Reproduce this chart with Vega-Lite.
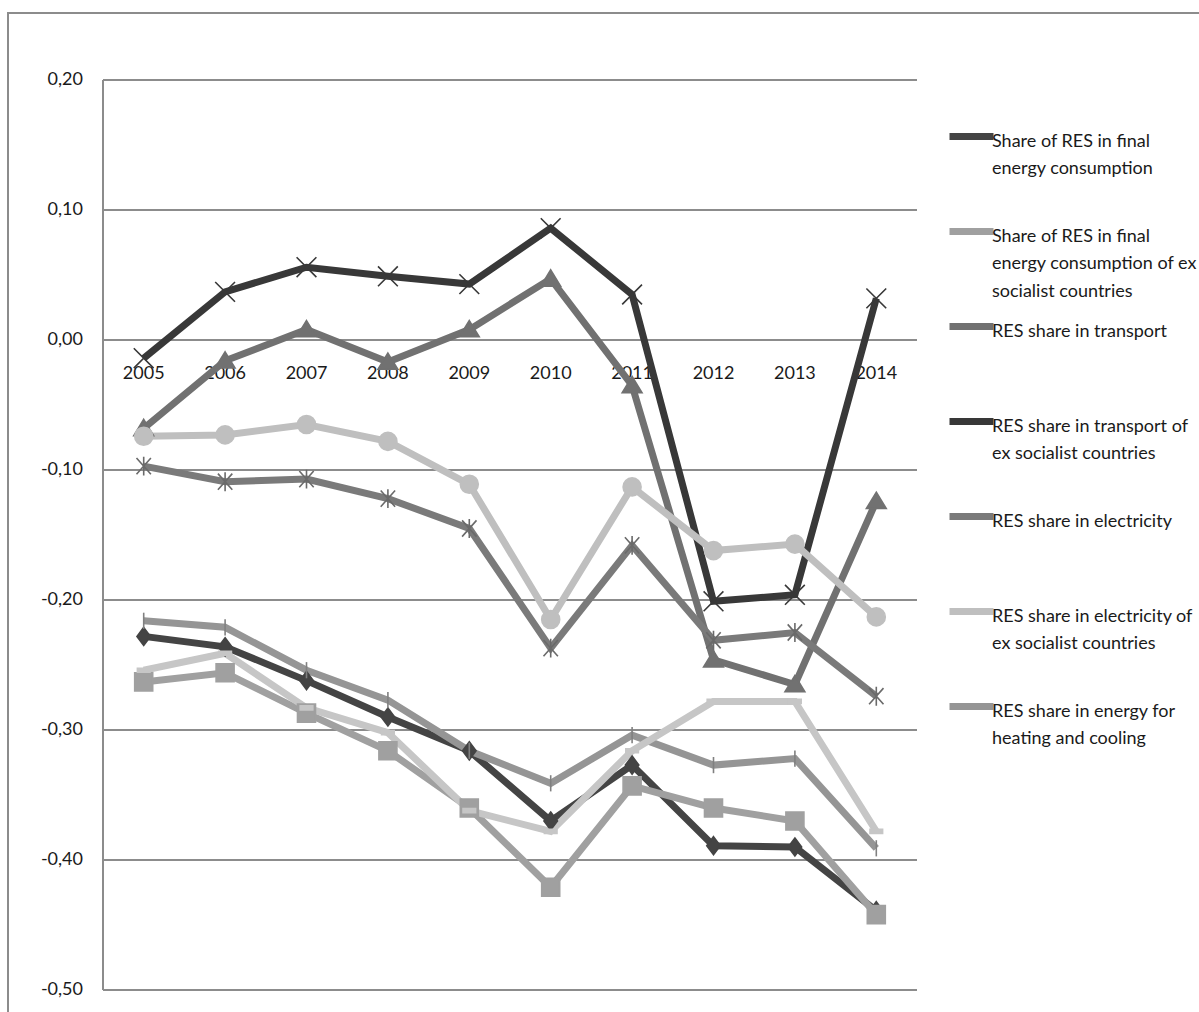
{
  "$schema": "https://vega.github.io/schema/vega-lite/v6.json",
  "autosize": "none",
  "width": 1201,
  "height": 1009,
  "padding": {"left": 8, "top": 13, "right": -10, "bottom": -10},
  "background": "white",
  "config": {
    "view": {"stroke": "#8c8c8c", "strokeWidth": 2},
    "font": "Lato, DejaVu Sans Condensed, sans-serif",
    "style": {"guide-label": {"lineHeight": 27.5, "dy": 5}}
  },
  "datasets": {
    "res": [
      {"year": "2005", "series": "Share of RES in final energy consumption", "value": -0.228},
      {"year": "2006", "series": "Share of RES in final energy consumption", "value": -0.236},
      {"year": "2007", "series": "Share of RES in final energy consumption", "value": -0.262},
      {"year": "2008", "series": "Share of RES in final energy consumption", "value": -0.290},
      {"year": "2009", "series": "Share of RES in final energy consumption", "value": -0.316},
      {"year": "2010", "series": "Share of RES in final energy consumption", "value": -0.370},
      {"year": "2011", "series": "Share of RES in final energy consumption", "value": -0.327},
      {"year": "2012", "series": "Share of RES in final energy consumption", "value": -0.389},
      {"year": "2013", "series": "Share of RES in final energy consumption", "value": -0.390},
      {"year": "2014", "series": "Share of RES in final energy consumption", "value": -0.439},

      {"year": "2005", "series": "Share of RES in final energy consumption of ex socialist countries", "value": -0.263},
      {"year": "2006", "series": "Share of RES in final energy consumption of ex socialist countries", "value": -0.256},
      {"year": "2007", "series": "Share of RES in final energy consumption of ex socialist countries", "value": -0.287},
      {"year": "2008", "series": "Share of RES in final energy consumption of ex socialist countries", "value": -0.316},
      {"year": "2009", "series": "Share of RES in final energy consumption of ex socialist countries", "value": -0.360},
      {"year": "2010", "series": "Share of RES in final energy consumption of ex socialist countries", "value": -0.421},
      {"year": "2011", "series": "Share of RES in final energy consumption of ex socialist countries", "value": -0.343},
      {"year": "2012", "series": "Share of RES in final energy consumption of ex socialist countries", "value": -0.360},
      {"year": "2013", "series": "Share of RES in final energy consumption of ex socialist countries", "value": -0.370},
      {"year": "2014", "series": "Share of RES in final energy consumption of ex socialist countries", "value": -0.442},

      {"year": "2005", "series": "RES share in transport", "value": -0.068},
      {"year": "2006", "series": "RES share in transport", "value": -0.016},
      {"year": "2007", "series": "RES share in transport", "value": 0.008},
      {"year": "2008", "series": "RES share in transport", "value": -0.017},
      {"year": "2009", "series": "RES share in transport", "value": 0.008},
      {"year": "2010", "series": "RES share in transport", "value": 0.047},
      {"year": "2011", "series": "RES share in transport", "value": -0.035},
      {"year": "2012", "series": "RES share in transport", "value": -0.246},
      {"year": "2013", "series": "RES share in transport", "value": -0.265},
      {"year": "2014", "series": "RES share in transport", "value": -0.124},

      {"year": "2005", "series": "RES share in transport of ex socialist countries", "value": -0.014},
      {"year": "2006", "series": "RES share in transport of ex socialist countries", "value": 0.037},
      {"year": "2007", "series": "RES share in transport of ex socialist countries", "value": 0.056},
      {"year": "2008", "series": "RES share in transport of ex socialist countries", "value": 0.049},
      {"year": "2009", "series": "RES share in transport of ex socialist countries", "value": 0.043},
      {"year": "2010", "series": "RES share in transport of ex socialist countries", "value": 0.086},
      {"year": "2011", "series": "RES share in transport of ex socialist countries", "value": 0.035},
      {"year": "2012", "series": "RES share in transport of ex socialist countries", "value": -0.201},
      {"year": "2013", "series": "RES share in transport of ex socialist countries", "value": -0.196},
      {"year": "2014", "series": "RES share in transport of ex socialist countries", "value": 0.032},

      {"year": "2005", "series": "RES share in electricity", "value": -0.097},
      {"year": "2006", "series": "RES share in electricity", "value": -0.109},
      {"year": "2007", "series": "RES share in electricity", "value": -0.107},
      {"year": "2008", "series": "RES share in electricity", "value": -0.122},
      {"year": "2009", "series": "RES share in electricity", "value": -0.145},
      {"year": "2010", "series": "RES share in electricity", "value": -0.237},
      {"year": "2011", "series": "RES share in electricity", "value": -0.158},
      {"year": "2012", "series": "RES share in electricity", "value": -0.231},
      {"year": "2013", "series": "RES share in electricity", "value": -0.225},
      {"year": "2014", "series": "RES share in electricity", "value": -0.274},

      {"year": "2005", "series": "RES share in electricity of ex socialist countries", "value": -0.074},
      {"year": "2006", "series": "RES share in electricity of ex socialist countries", "value": -0.073},
      {"year": "2007", "series": "RES share in electricity of ex socialist countries", "value": -0.065},
      {"year": "2008", "series": "RES share in electricity of ex socialist countries", "value": -0.078},
      {"year": "2009", "series": "RES share in electricity of ex socialist countries", "value": -0.111},
      {"year": "2010", "series": "RES share in electricity of ex socialist countries", "value": -0.215},
      {"year": "2011", "series": "RES share in electricity of ex socialist countries", "value": -0.113},
      {"year": "2012", "series": "RES share in electricity of ex socialist countries", "value": -0.162},
      {"year": "2013", "series": "RES share in electricity of ex socialist countries", "value": -0.157},
      {"year": "2014", "series": "RES share in electricity of ex socialist countries", "value": -0.213},

      {"year": "2005", "series": "RES share in energy for heating and cooling", "value": -0.216},
      {"year": "2006", "series": "RES share in energy for heating and cooling", "value": -0.221},
      {"year": "2007", "series": "RES share in energy for heating and cooling", "value": -0.254},
      {"year": "2008", "series": "RES share in energy for heating and cooling", "value": -0.277},
      {"year": "2009", "series": "RES share in energy for heating and cooling", "value": -0.316},
      {"year": "2010", "series": "RES share in energy for heating and cooling", "value": -0.341},
      {"year": "2011", "series": "RES share in energy for heating and cooling", "value": -0.304},
      {"year": "2012", "series": "RES share in energy for heating and cooling", "value": -0.327},
      {"year": "2013", "series": "RES share in energy for heating and cooling", "value": -0.322},
      {"year": "2014", "series": "RES share in energy for heating and cooling", "value": -0.391},

      {"year": "2005", "series": "RES share in energy for heating and cooling of ex socialist countries", "value": -0.254},
      {"year": "2006", "series": "RES share in energy for heating and cooling of ex socialist countries", "value": -0.241},
      {"year": "2007", "series": "RES share in energy for heating and cooling of ex socialist countries", "value": -0.283},
      {"year": "2008", "series": "RES share in energy for heating and cooling of ex socialist countries", "value": -0.302},
      {"year": "2009", "series": "RES share in energy for heating and cooling of ex socialist countries", "value": -0.362},
      {"year": "2010", "series": "RES share in energy for heating and cooling of ex socialist countries", "value": -0.378},
      {"year": "2011", "series": "RES share in energy for heating and cooling of ex socialist countries", "value": -0.316},
      {"year": "2012", "series": "RES share in energy for heating and cooling of ex socialist countries", "value": -0.278},
      {"year": "2013", "series": "RES share in energy for heating and cooling of ex socialist countries", "value": -0.278},
      {"year": "2014", "series": "RES share in energy for heating and cooling of ex socialist countries", "value": -0.378}
    ],
    "ticks": [
      {"tick": -0.5, "label": "-0,50"},
      {"tick": -0.4, "label": "-0,40"},
      {"tick": -0.3, "label": "-0,30"},
      {"tick": -0.2, "label": "-0,20"},
      {"tick": -0.1, "label": "-0,10"},
      {"tick": 0, "label": "0,00"},
      {"tick": 0.1, "label": "0,10"},
      {"tick": 0.2, "label": "0,20"}
    ]
  },
  "encoding": {
    "x": {
      "field": "year",
      "type": "nominal",
      "axis": null,
      "scale": {"type": "band", "range": [95, 909], "paddingInner": 0, "paddingOuter": 0}
    },
    "y": {
      "field": "value",
      "type": "quantitative",
      "axis": null,
      "scale": {"domain": [-0.5, 0.2], "range": [977, 67], "nice": false, "zero": false}
    }
  },
  "layer": [
    {
      "data": {"name": "ticks"},
      "mark": {"type": "rule", "color": "#8c8c8c", "strokeWidth": 2},
      "encoding": {
        "x": {"datum": "2005", "type": "nominal", "bandPosition": 0},
        "x2": {"datum": "2014", "bandPosition": 1},
        "y": {"field": "tick", "type": "quantitative"}
      }
    },
    {
      "data": {"values": [{"from": -0.5, "to": 0.2}]},
      "mark": {"type": "rule", "color": "#8c8c8c", "strokeWidth": 2},
      "encoding": {
        "x": {"datum": "2005", "type": "nominal", "bandPosition": 0},
        "y": {"field": "from", "type": "quantitative"},
        "y2": {"field": "to"}
      }
    },
    {
      "data": {"name": "ticks"},
      "mark": {"type": "text", "align": "right", "baseline": "middle", "dx": -20, "fontSize": 18, "color": "#1a1a1a"},
      "encoding": {
        "x": {"datum": "2005", "type": "nominal", "bandPosition": 0},
        "y": {"field": "tick", "type": "quantitative"},
        "text": {"field": "label"}
      }
    },
    {
      "data": {"name": "res"},
      "transform": [{"filter": "datum.series === 'Share of RES in final energy consumption'"}],
      "mark": {"type": "text", "align": "center", "baseline": "middle", "dy": 34, "fontSize": 18, "color": "#1a1a1a"},
      "encoding": {
        "y": {"datum": 0, "type": "quantitative"},
        "text": {"field": "year"}
      }
    },
    {
      "data": {"name": "res"},
      "transform": [{"filter": "datum.series !== 'RES share in energy for heating and cooling of ex socialist countries'"}],
      "mark": {"type": "line", "strokeWidth": 7},
      "encoding": {
        "color": {
          "field": "series",
          "type": "nominal",
          "scale": {
            "domain": [
              "Share of RES in final energy consumption",
              "Share of RES in final energy consumption of ex socialist countries",
              "RES share in transport",
              "RES share in transport of ex socialist countries",
              "RES share in electricity",
              "RES share in electricity of ex socialist countries",
              "RES share in energy for heating and cooling"
            ],
            "range": ["#444444", "#a0a0a0", "#717171", "#383838", "#7a7a7a", "#bfbfbf", "#959595"]
          },
          "legend": {
            "orient": "none",
            "legendX": 938,
            "legendY": 98,
            "title": null,
            "padding": 0,
            "rowPadding": 0,
            "symbolType": "stroke",
            "symbolSize": 1936,
            "symbolStrokeWidth": 7,
            "labelFontSize": 18,
            "labelColor": "#1a1a1a",
            "labelLimit": 0,
            "labelOffset": -5,
            "labelExpr": "datum.label === 'Share of RES in final energy consumption' ? ['Share of RES in final', 'energy consumption', ''] : datum.label === 'Share of RES in final energy consumption of ex socialist countries' ? ['Share of RES in final', 'energy consumption of ex', 'socialist countries'] : datum.label === 'RES share in transport' ? ['RES share in transport', '', ''] : datum.label === 'RES share in transport of ex socialist countries' ? ['RES share in transport of', 'ex socialist countries', ''] : datum.label === 'RES share in electricity' ? ['RES share in electricity', '', ''] : datum.label === 'RES share in electricity of ex socialist countries' ? ['RES share in electricity of', 'ex socialist countries', ''] : ['RES share in energy for', 'heating and cooling', '']"
          }
        }
      }
    },
    {
      "data": {"name": "res"},
      "transform": [{"filter": "datum.series === 'RES share in energy for heating and cooling of ex socialist countries'"}],
      "mark": {"type": "line", "strokeWidth": 7, "color": "#c6c6c6"},
      "encoding": {}
    },
    {
      "data": {"name": "res"},
      "mark": {"type": "point", "filled": true, "strokeWidth": 1.6, "opacity": 1, "size": 324},
      "encoding": {
        "shape": {
          "field": "series",
          "type": "nominal",
          "legend": null,
          "scale": {
            "domain": [
              "Share of RES in final energy consumption",
              "Share of RES in final energy consumption of ex socialist countries",
              "RES share in transport",
              "RES share in transport of ex socialist countries",
              "RES share in electricity",
              "RES share in electricity of ex socialist countries",
              "RES share in energy for heating and cooling",
              "RES share in energy for heating and cooling of ex socialist countries"
            ],
            "range": [
              "M0,-1L0.75,0L0,1L-0.75,0Z",
              "M-1,-1L1,-1L1,1L-1,1Z",
              "M0,-1L1.1,0.8L-1.1,0.8Z",
              "M-1.1,-1.1L1.1,1.1M1.1,-1.1L-1.1,1.1",
              "M-0.8,-0.9L0.8,0.9M0.8,-0.9L-0.8,0.9M0,-1.05L0,1.05",
              "circle",
              "M0,-0.9L0,0.9",
              "M-0.7,-0.22L0.7,-0.22L0.7,0.22L-0.7,0.22Z"
            ]
          }
        },
        "fill": {
          "field": "series",
          "type": "nominal",
          "legend": null,
          "scale": {
            "domain": [
              "Share of RES in final energy consumption",
              "Share of RES in final energy consumption of ex socialist countries",
              "RES share in transport",
              "RES share in transport of ex socialist countries",
              "RES share in electricity",
              "RES share in electricity of ex socialist countries",
              "RES share in energy for heating and cooling",
              "RES share in energy for heating and cooling of ex socialist countries"
            ],
            "range": ["#444444", "#a0a0a0", "#717171", "#383838", "#7a7a7a", "#bfbfbf", "#959595", "#c6c6c6"]
          }
        },
        "stroke": {
          "field": "series",
          "type": "nominal",
          "legend": null,
          "scale": {
            "domain": [
              "Share of RES in final energy consumption",
              "Share of RES in final energy consumption of ex socialist countries",
              "RES share in transport",
              "RES share in transport of ex socialist countries",
              "RES share in electricity",
              "RES share in electricity of ex socialist countries",
              "RES share in energy for heating and cooling",
              "RES share in energy for heating and cooling of ex socialist countries"
            ],
            "range": ["#444444", "#a0a0a0", "#717171", "#383838", "#6a6a6a", "#bfbfbf", "#808080", "#c6c6c6"]
          }
        }
      }
    }
  ]
}
